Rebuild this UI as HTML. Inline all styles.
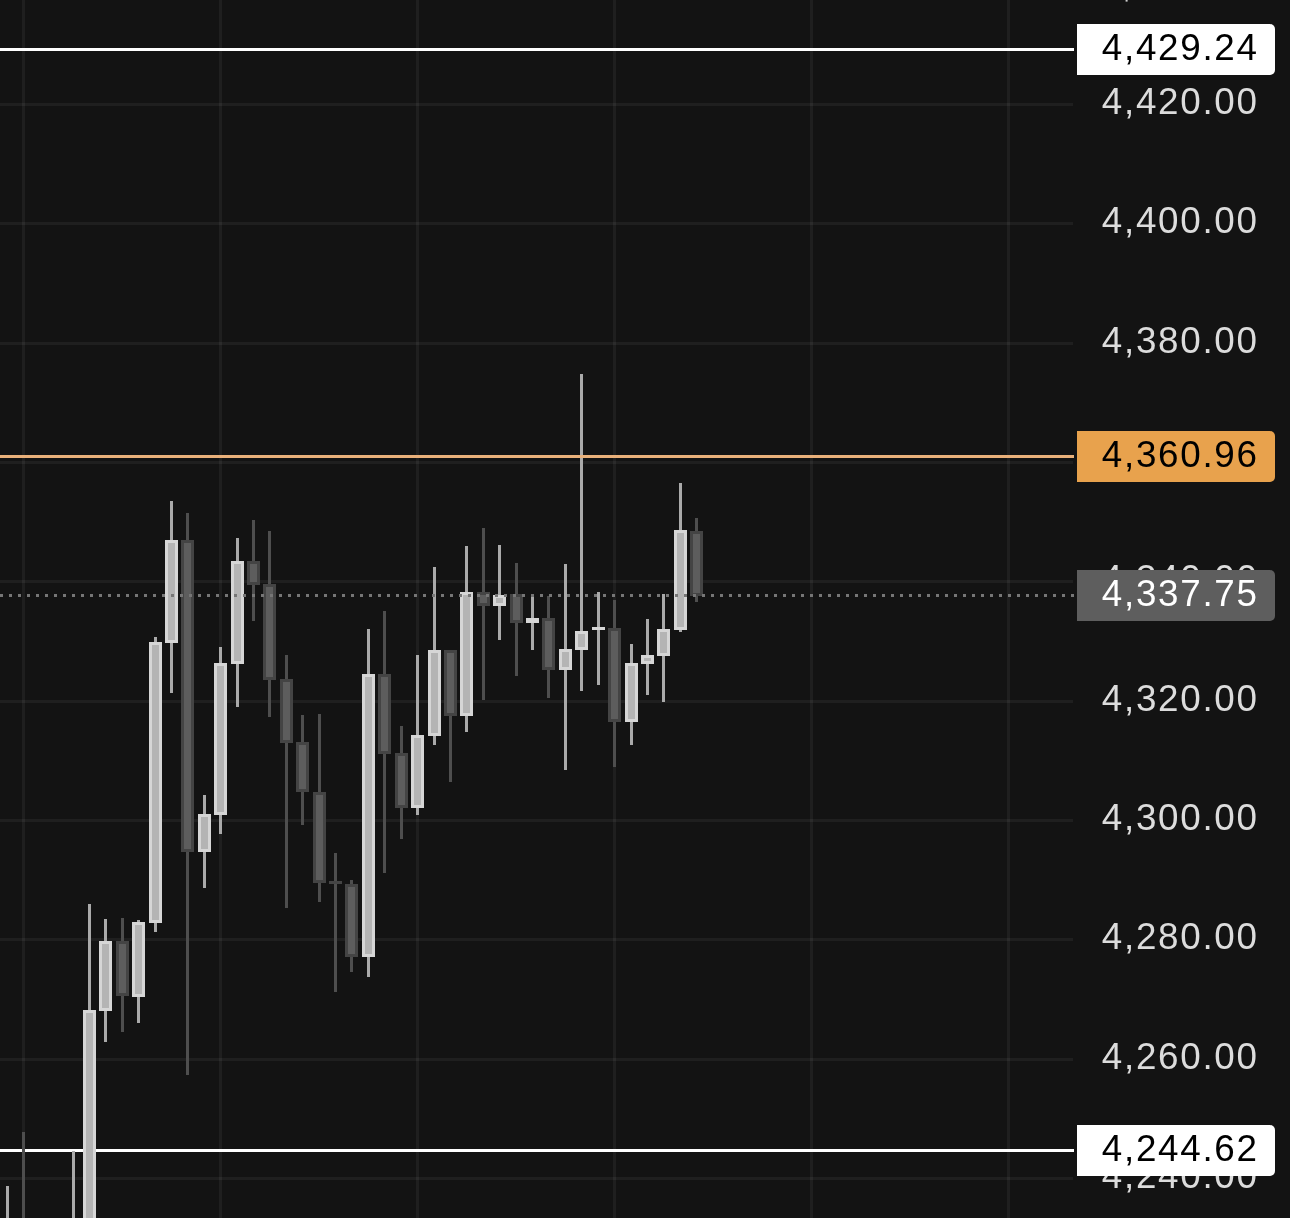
<!DOCTYPE html>
<html><head><meta charset="utf-8"><title>Chart</title>
<style>
html,body{margin:0;padding:0;background:#131313;}
body{width:1290px;height:1218px;position:relative;overflow:hidden;font-family:"Liberation Sans",sans-serif;}
.t{position:absolute;left:1101.8px;font-size:36.8px;line-height:40px;height:40px;letter-spacing:1.7px;white-space:nowrap;color:#DCDCDC;}
.tag{position:absolute;left:1077px;width:198.2px;height:51.4px;border-radius:0 5px 5px 0;}
</style></head><body>
<svg width="1290" height="1218" viewBox="0 0 1290 1218" style="position:absolute;left:0;top:0">
<g fill="#FFFFFF" fill-opacity="0.055">
<rect x="22" y="0" width="3" height="1218"/>
<rect x="219" y="0" width="3" height="1218"/>
<rect x="416" y="0" width="3" height="1218"/>
<rect x="613" y="0" width="3" height="1218"/>
<rect x="810" y="0" width="3" height="1218"/>
<rect x="1007" y="0" width="3" height="1218"/>
<rect x="0" y="103" width="1073" height="3"/>
<rect x="0" y="222" width="1073" height="3"/>
<rect x="0" y="342" width="1073" height="3"/>
<rect x="0" y="461" width="1073" height="3"/>
<rect x="0" y="580" width="1073" height="3"/>
<rect x="0" y="700" width="1073" height="3"/>
<rect x="0" y="819" width="1073" height="3"/>
<rect x="0" y="938" width="1073" height="3"/>
<rect x="0" y="1058" width="1073" height="3"/>
<rect x="0" y="1177" width="1073" height="3"/>
</g>
<rect x="0" y="48" width="1074" height="3" fill="#FFFFFF"/>
<rect x="0" y="1149" width="1074" height="3" fill="#FFFFFF"/>
<rect x="6" y="1186" width="3" height="54" fill="#AAAAAA"/>
<rect x="22" y="1132" width="3" height="108" fill="#4E4E4E"/>
<rect x="72" y="1151" width="3" height="89" fill="#AAAAAA"/>
<rect x="88" y="904" width="3" height="336" fill="#AAAAAA"/>
<rect x="83" y="1010" width="13" height="230" fill="#D6D6D6"/>
<rect x="86" y="1013" width="7" height="224" fill="#B4B4B4"/>
<rect x="104" y="919" width="3" height="123" fill="#AAAAAA"/>
<rect x="99" y="941" width="13" height="70" fill="#D6D6D6"/>
<rect x="102" y="944" width="7" height="64" fill="#B4B4B4"/>
<rect x="121" y="918" width="3" height="114" fill="#4E4E4E"/>
<rect x="116" y="941" width="13" height="55" fill="#444444"/>
<rect x="119" y="944" width="7" height="49" fill="#5D5D5D"/>
<rect x="137" y="920" width="3" height="103" fill="#AAAAAA"/>
<rect x="132" y="922" width="13" height="75" fill="#D6D6D6"/>
<rect x="135" y="925" width="7" height="69" fill="#B4B4B4"/>
<rect x="154" y="637" width="3" height="295" fill="#AAAAAA"/>
<rect x="149" y="642" width="13" height="281" fill="#D6D6D6"/>
<rect x="152" y="645" width="7" height="275" fill="#B4B4B4"/>
<rect x="170" y="501" width="3" height="192" fill="#AAAAAA"/>
<rect x="165" y="540" width="13" height="103" fill="#D6D6D6"/>
<rect x="168" y="543" width="7" height="97" fill="#B4B4B4"/>
<rect x="186" y="513" width="3" height="562" fill="#4E4E4E"/>
<rect x="181" y="540" width="13" height="312" fill="#444444"/>
<rect x="184" y="543" width="7" height="306" fill="#5D5D5D"/>
<rect x="203" y="795" width="3" height="93" fill="#AAAAAA"/>
<rect x="198" y="814" width="13" height="38" fill="#D6D6D6"/>
<rect x="201" y="817" width="7" height="32" fill="#B4B4B4"/>
<rect x="219" y="647" width="3" height="187" fill="#AAAAAA"/>
<rect x="214" y="663" width="13" height="152" fill="#D6D6D6"/>
<rect x="217" y="666" width="7" height="146" fill="#B4B4B4"/>
<rect x="236" y="538" width="3" height="169" fill="#AAAAAA"/>
<rect x="231" y="561" width="13" height="103" fill="#D6D6D6"/>
<rect x="234" y="564" width="7" height="97" fill="#B4B4B4"/>
<rect x="252" y="520" width="3" height="101" fill="#4E4E4E"/>
<rect x="247" y="561" width="13" height="24" fill="#444444"/>
<rect x="250" y="564" width="7" height="18" fill="#5D5D5D"/>
<rect x="268" y="531" width="3" height="186" fill="#4E4E4E"/>
<rect x="263" y="584" width="13" height="96" fill="#444444"/>
<rect x="266" y="587" width="7" height="90" fill="#5D5D5D"/>
<rect x="285" y="655" width="3" height="253" fill="#4E4E4E"/>
<rect x="280" y="679" width="13" height="64" fill="#444444"/>
<rect x="283" y="682" width="7" height="58" fill="#5D5D5D"/>
<rect x="301" y="715" width="3" height="110" fill="#4E4E4E"/>
<rect x="296" y="742" width="13" height="50" fill="#444444"/>
<rect x="299" y="745" width="7" height="44" fill="#5D5D5D"/>
<rect x="318" y="714" width="3" height="188" fill="#4E4E4E"/>
<rect x="313" y="792" width="13" height="91" fill="#444444"/>
<rect x="316" y="795" width="7" height="85" fill="#5D5D5D"/>
<rect x="334" y="853" width="3" height="139" fill="#4E4E4E"/>
<rect x="329" y="881" width="13" height="3" fill="#444444"/>
<rect x="350" y="880" width="3" height="92" fill="#4E4E4E"/>
<rect x="345" y="884" width="13" height="73" fill="#444444"/>
<rect x="348" y="887" width="7" height="67" fill="#5D5D5D"/>
<rect x="367" y="629" width="3" height="348" fill="#AAAAAA"/>
<rect x="362" y="674" width="13" height="283" fill="#D6D6D6"/>
<rect x="365" y="677" width="7" height="277" fill="#B4B4B4"/>
<rect x="383" y="611" width="3" height="262" fill="#4E4E4E"/>
<rect x="378" y="674" width="13" height="80" fill="#444444"/>
<rect x="381" y="677" width="7" height="74" fill="#5D5D5D"/>
<rect x="400" y="726" width="3" height="113" fill="#4E4E4E"/>
<rect x="395" y="753" width="13" height="55" fill="#444444"/>
<rect x="398" y="756" width="7" height="49" fill="#5D5D5D"/>
<rect x="416" y="655" width="3" height="160" fill="#AAAAAA"/>
<rect x="411" y="735" width="13" height="73" fill="#D6D6D6"/>
<rect x="414" y="738" width="7" height="67" fill="#B4B4B4"/>
<rect x="433" y="567" width="3" height="178" fill="#AAAAAA"/>
<rect x="428" y="650" width="13" height="86" fill="#D6D6D6"/>
<rect x="431" y="653" width="7" height="80" fill="#B4B4B4"/>
<rect x="449" y="650" width="3" height="132" fill="#4E4E4E"/>
<rect x="444" y="650" width="13" height="66" fill="#444444"/>
<rect x="447" y="653" width="7" height="60" fill="#5D5D5D"/>
<rect x="465" y="546" width="3" height="186" fill="#AAAAAA"/>
<rect x="460" y="592" width="13" height="124" fill="#D6D6D6"/>
<rect x="463" y="595" width="7" height="118" fill="#B4B4B4"/>
<rect x="482" y="528" width="3" height="172" fill="#4E4E4E"/>
<rect x="477" y="592" width="13" height="14" fill="#444444"/>
<rect x="480" y="595" width="7" height="8" fill="#5D5D5D"/>
<rect x="498" y="545" width="3" height="95" fill="#AAAAAA"/>
<rect x="493" y="595" width="13" height="11" fill="#D6D6D6"/>
<rect x="496" y="598" width="7" height="5" fill="#B4B4B4"/>
<rect x="515" y="563" width="3" height="113" fill="#4E4E4E"/>
<rect x="510" y="594" width="13" height="29" fill="#444444"/>
<rect x="513" y="597" width="7" height="23" fill="#5D5D5D"/>
<rect x="531" y="596" width="3" height="54" fill="#AAAAAA"/>
<rect x="526" y="618" width="13" height="5" fill="#D6D6D6"/>
<rect x="547" y="596" width="3" height="102" fill="#4E4E4E"/>
<rect x="542" y="618" width="13" height="52" fill="#444444"/>
<rect x="545" y="621" width="7" height="46" fill="#5D5D5D"/>
<rect x="564" y="564" width="3" height="206" fill="#AAAAAA"/>
<rect x="559" y="649" width="13" height="21" fill="#D6D6D6"/>
<rect x="562" y="652" width="7" height="15" fill="#B4B4B4"/>
<rect x="580" y="374" width="3" height="317" fill="#AAAAAA"/>
<rect x="575" y="631" width="13" height="19" fill="#D6D6D6"/>
<rect x="578" y="634" width="7" height="13" fill="#B4B4B4"/>
<rect x="597" y="592" width="3" height="93" fill="#AAAAAA"/>
<rect x="592" y="627" width="13" height="3" fill="#D6D6D6"/>
<rect x="613" y="600" width="3" height="167" fill="#4E4E4E"/>
<rect x="608" y="628" width="13" height="94" fill="#444444"/>
<rect x="611" y="631" width="7" height="88" fill="#5D5D5D"/>
<rect x="630" y="644" width="3" height="101" fill="#AAAAAA"/>
<rect x="625" y="663" width="13" height="59" fill="#D6D6D6"/>
<rect x="628" y="666" width="7" height="53" fill="#B4B4B4"/>
<rect x="646" y="619" width="3" height="76" fill="#AAAAAA"/>
<rect x="641" y="655" width="13" height="9" fill="#D6D6D6"/>
<rect x="644" y="658" width="7" height="3" fill="#B4B4B4"/>
<rect x="662" y="594" width="3" height="108" fill="#AAAAAA"/>
<rect x="657" y="629" width="13" height="27" fill="#D6D6D6"/>
<rect x="660" y="632" width="7" height="21" fill="#B4B4B4"/>
<rect x="679" y="483" width="3" height="149" fill="#AAAAAA"/>
<rect x="674" y="530" width="13" height="100" fill="#D6D6D6"/>
<rect x="677" y="533" width="7" height="94" fill="#B4B4B4"/>
<rect x="695" y="518" width="3" height="84" fill="#4E4E4E"/>
<rect x="690" y="531" width="13" height="65" fill="#444444"/>
<rect x="693" y="534" width="7" height="59" fill="#5D5D5D"/>
<rect x="0" y="455" width="1074" height="3" fill="#E9B07A"/>
<g fill="#767676">
<rect x="0" y="594" width="3" height="3"/>
<rect x="9" y="594" width="3" height="3"/>
<rect x="18" y="594" width="3" height="3"/>
<rect x="27" y="594" width="3" height="3"/>
<rect x="36" y="594" width="3" height="3"/>
<rect x="45" y="594" width="3" height="3"/>
<rect x="54" y="594" width="3" height="3"/>
<rect x="63" y="594" width="3" height="3"/>
<rect x="72" y="594" width="3" height="3"/>
<rect x="81" y="594" width="3" height="3"/>
<rect x="90" y="594" width="3" height="3"/>
<rect x="99" y="594" width="3" height="3"/>
<rect x="108" y="594" width="3" height="3"/>
<rect x="117" y="594" width="3" height="3"/>
<rect x="126" y="594" width="3" height="3"/>
<rect x="135" y="594" width="3" height="3"/>
<rect x="144" y="594" width="3" height="3"/>
<rect x="153" y="594" width="3" height="3"/>
<rect x="162" y="594" width="3" height="3"/>
<rect x="171" y="594" width="3" height="3"/>
<rect x="180" y="594" width="3" height="3"/>
<rect x="189" y="594" width="3" height="3"/>
<rect x="198" y="594" width="3" height="3"/>
<rect x="207" y="594" width="3" height="3"/>
<rect x="216" y="594" width="3" height="3"/>
<rect x="225" y="594" width="3" height="3"/>
<rect x="234" y="594" width="3" height="3"/>
<rect x="243" y="594" width="3" height="3"/>
<rect x="252" y="594" width="3" height="3"/>
<rect x="261" y="594" width="3" height="3"/>
<rect x="270" y="594" width="3" height="3"/>
<rect x="279" y="594" width="3" height="3"/>
<rect x="288" y="594" width="3" height="3"/>
<rect x="297" y="594" width="3" height="3"/>
<rect x="306" y="594" width="3" height="3"/>
<rect x="315" y="594" width="3" height="3"/>
<rect x="324" y="594" width="3" height="3"/>
<rect x="333" y="594" width="3" height="3"/>
<rect x="342" y="594" width="3" height="3"/>
<rect x="351" y="594" width="3" height="3"/>
<rect x="360" y="594" width="3" height="3"/>
<rect x="369" y="594" width="3" height="3"/>
<rect x="378" y="594" width="3" height="3"/>
<rect x="387" y="594" width="3" height="3"/>
<rect x="396" y="594" width="3" height="3"/>
<rect x="405" y="594" width="3" height="3"/>
<rect x="414" y="594" width="3" height="3"/>
<rect x="423" y="594" width="3" height="3"/>
<rect x="432" y="594" width="3" height="3"/>
<rect x="441" y="594" width="3" height="3"/>
<rect x="450" y="594" width="3" height="3"/>
<rect x="459" y="594" width="3" height="3"/>
<rect x="468" y="594" width="3" height="3"/>
<rect x="477" y="594" width="3" height="3"/>
<rect x="486" y="594" width="3" height="3"/>
<rect x="495" y="594" width="3" height="3"/>
<rect x="504" y="594" width="3" height="3"/>
<rect x="513" y="594" width="3" height="3"/>
<rect x="522" y="594" width="3" height="3"/>
<rect x="531" y="594" width="3" height="3"/>
<rect x="540" y="594" width="3" height="3"/>
<rect x="549" y="594" width="3" height="3"/>
<rect x="558" y="594" width="3" height="3"/>
<rect x="567" y="594" width="3" height="3"/>
<rect x="576" y="594" width="3" height="3"/>
<rect x="585" y="594" width="3" height="3"/>
<rect x="594" y="594" width="3" height="3"/>
<rect x="603" y="594" width="3" height="3"/>
<rect x="612" y="594" width="3" height="3"/>
<rect x="621" y="594" width="3" height="3"/>
<rect x="630" y="594" width="3" height="3"/>
<rect x="639" y="594" width="3" height="3"/>
<rect x="648" y="594" width="3" height="3"/>
<rect x="657" y="594" width="3" height="3"/>
<rect x="666" y="594" width="3" height="3"/>
<rect x="675" y="594" width="3" height="3"/>
<rect x="684" y="594" width="3" height="3"/>
<rect x="693" y="594" width="3" height="3"/>
<rect x="702" y="594" width="3" height="3"/>
<rect x="711" y="594" width="3" height="3"/>
<rect x="720" y="594" width="3" height="3"/>
<rect x="729" y="594" width="3" height="3"/>
<rect x="738" y="594" width="3" height="3"/>
<rect x="747" y="594" width="3" height="3"/>
<rect x="756" y="594" width="3" height="3"/>
<rect x="765" y="594" width="3" height="3"/>
<rect x="774" y="594" width="3" height="3"/>
<rect x="783" y="594" width="3" height="3"/>
<rect x="792" y="594" width="3" height="3"/>
<rect x="801" y="594" width="3" height="3"/>
<rect x="810" y="594" width="3" height="3"/>
<rect x="819" y="594" width="3" height="3"/>
<rect x="828" y="594" width="3" height="3"/>
<rect x="837" y="594" width="3" height="3"/>
<rect x="846" y="594" width="3" height="3"/>
<rect x="855" y="594" width="3" height="3"/>
<rect x="864" y="594" width="3" height="3"/>
<rect x="873" y="594" width="3" height="3"/>
<rect x="882" y="594" width="3" height="3"/>
<rect x="891" y="594" width="3" height="3"/>
<rect x="900" y="594" width="3" height="3"/>
<rect x="909" y="594" width="3" height="3"/>
<rect x="918" y="594" width="3" height="3"/>
<rect x="927" y="594" width="3" height="3"/>
<rect x="936" y="594" width="3" height="3"/>
<rect x="945" y="594" width="3" height="3"/>
<rect x="954" y="594" width="3" height="3"/>
<rect x="963" y="594" width="3" height="3"/>
<rect x="972" y="594" width="3" height="3"/>
<rect x="981" y="594" width="3" height="3"/>
<rect x="990" y="594" width="3" height="3"/>
<rect x="999" y="594" width="3" height="3"/>
<rect x="1008" y="594" width="3" height="3"/>
<rect x="1017" y="594" width="3" height="3"/>
<rect x="1026" y="594" width="3" height="3"/>
<rect x="1035" y="594" width="3" height="3"/>
<rect x="1044" y="594" width="3" height="3"/>
<rect x="1053" y="594" width="3" height="3"/>
<rect x="1062" y="594" width="3" height="3"/>
<rect x="1071" y="594" width="3" height="3"/>
</g>
<rect x="1125.6" y="0" width="2" height="1.6" fill="#CFCFCF"/>
</svg>
<div class="t ax" style="top:-37.23px">4,440.00</div>
<div class="t ax" style="top:82.10px">4,420.00</div>
<div class="t ax" style="top:201.43px">4,400.00</div>
<div class="t ax" style="top:320.77px">4,380.00</div>
<div class="t ax" style="top:440.10px">4,360.00</div>
<div class="t ax" style="top:559.43px">4,340.00</div>
<div class="t ax" style="top:678.77px">4,320.00</div>
<div class="t ax" style="top:798.10px">4,300.00</div>
<div class="t ax" style="top:917.43px">4,280.00</div>
<div class="t ax" style="top:1036.77px">4,260.00</div>
<div class="t ax" style="top:1156.10px">4,240.00</div>
<div class="tag" style="top:23.7px;background:#FFFFFF"></div><div class="t" style="top:28.10px;color:#000000">4,429.24</div>
<div class="tag" style="top:430.8px;background:#E8A24D"></div><div class="t" style="top:435.15px;color:#000000">4,360.96</div>
<div class="tag" style="top:569.6px;background:#5E5E5E"></div><div class="t" style="top:574.05px;color:#FFFFFF">4,337.75</div>
<div class="tag" style="top:1124.7px;background:#FFFFFF"></div><div class="t" style="top:1129.10px;color:#000000">4,244.62</div>
</body></html>
